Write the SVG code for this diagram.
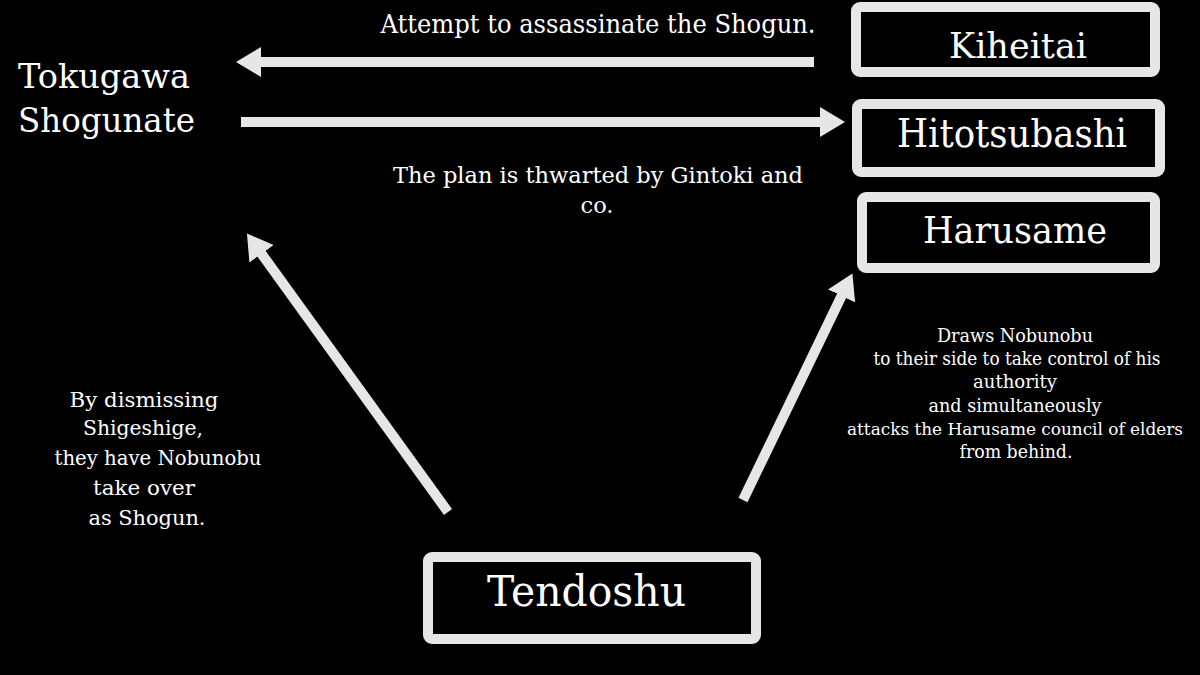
<svg xmlns="http://www.w3.org/2000/svg" width="1200" height="675" viewBox="0 0 1200 675">
  <style>
    .box { fill: #000; stroke: #e6e6e6; stroke-width: 10; }
    .t { font-family: "DejaVu Serif", "Liberation Serif", serif; fill: #ffffff; text-anchor: middle; }
    .tl { font-family: "DejaVu Serif", "Liberation Serif", serif; fill: #ffffff; text-anchor: start; }
    .conn { stroke: #e6e6e6; stroke-width: 10; fill: none; marker-end: url(#head); }
  </style>
  <defs>
    <marker id="head" markerUnits="userSpaceOnUse" markerWidth="25" markerHeight="30" viewBox="0 0 25 30" refX="1" refY="15" orient="auto">
      <path d="M0,0 L25,15 L0,30 z" fill="#e6e6e6"/>
    </marker>
  </defs>
  <rect width="1200" height="675" fill="#000"/>

  <g id="connectors">
    <line class="conn" x1="814" y1="62" x2="260" y2="62"/>
    <line class="conn" x1="241" y1="122" x2="821" y2="122"/>
    <line class="conn" x1="448" y1="512" x2="261" y2="253"/>
    <line class="conn" x1="743" y1="500" x2="842" y2="295"/>
  </g>

  <g id="tokugawa">
    <text class="tl" x="18" y="88" font-size="34" textLength="172" lengthAdjust="spacingAndGlyphs">Tokugawa</text>
    <text class="tl" x="18" y="132" font-size="34" textLength="177" lengthAdjust="spacingAndGlyphs">Shogunate</text>
  </g>

  <g id="kiheitai">
    <rect class="box" x="856" y="7" width="299" height="65" rx="4"/>
    <text class="t" x="1018" y="58" font-size="36" textLength="138" lengthAdjust="spacingAndGlyphs">Kiheitai</text>
  </g>

  <g id="hitotsubashi">
    <rect class="box" x="857" y="104" width="303" height="68" rx="4"/>
    <text class="t" x="1012" y="147" font-size="39" textLength="230" lengthAdjust="spacingAndGlyphs">Hitotsubashi</text>
  </g>

  <g id="harusame">
    <rect class="box" x="862" y="197" width="293" height="71" rx="4"/>
    <text class="t" x="1015" y="243" font-size="37" textLength="184" lengthAdjust="spacingAndGlyphs">Harusame</text>
  </g>

  <g id="tendoshu">
    <rect class="box" x="428" y="557" width="328" height="82" rx="4"/>
    <text class="t" x="586.5" y="606" font-size="43" textLength="199" lengthAdjust="spacingAndGlyphs">Tendoshu</text>
  </g>

  <g id="label-attempt">
    <text class="t" x="598" y="33" font-size="26" textLength="435" lengthAdjust="spacingAndGlyphs">Attempt to assassinate the Shogun.</text>
  </g>

  <g id="label-plan">
    <text class="t" x="598" y="183" font-size="22" textLength="410" lengthAdjust="spacingAndGlyphs">The plan is thwarted by Gintoki and</text>
    <text class="t" x="597" y="213" font-size="22" textLength="33" lengthAdjust="spacingAndGlyphs">co.</text>
  </g>

  <g id="label-dismiss">
    <text class="t" x="144" y="407" font-size="21" textLength="149" lengthAdjust="spacingAndGlyphs">By dismissing</text>
    <text class="t" x="143" y="435" font-size="21" textLength="120" lengthAdjust="spacingAndGlyphs">Shigeshige,</text>
    <text class="t" x="158" y="465" font-size="21" textLength="207" lengthAdjust="spacingAndGlyphs">they have Nobunobu</text>
    <text class="t" x="144" y="495" font-size="21" textLength="102" lengthAdjust="spacingAndGlyphs">take over</text>
    <text class="t" x="147" y="525" font-size="21" textLength="117" lengthAdjust="spacingAndGlyphs">as Shogun.</text>
  </g>

  <g id="label-draws">
    <text class="t" x="1015" y="342" font-size="18" textLength="156" lengthAdjust="spacingAndGlyphs">Draws Nobunobu</text>
    <text class="t" x="1017" y="365" font-size="18" textLength="287" lengthAdjust="spacingAndGlyphs">to their side to take control of his</text>
    <text class="t" x="1015" y="388" font-size="18" textLength="84" lengthAdjust="spacingAndGlyphs">authority</text>
    <text class="t" x="1015" y="412" font-size="18" textLength="173" lengthAdjust="spacingAndGlyphs">and simultaneously</text>
    <text class="t" x="1015" y="435" font-size="16" textLength="336" lengthAdjust="spacingAndGlyphs">attacks the Harusame council of elders</text>
    <text class="t" x="1016" y="458" font-size="18" textLength="113" lengthAdjust="spacingAndGlyphs">from behind.</text>
  </g>
</svg>
